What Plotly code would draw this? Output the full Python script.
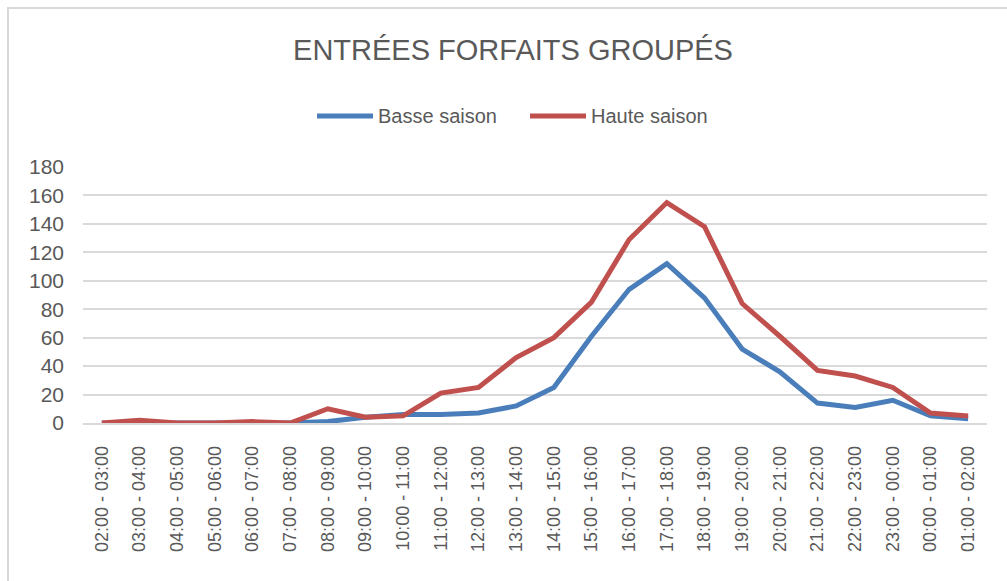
import plotly.graph_objects as go

categories = ["02:00 - 03:00", "03:00 - 04:00", "04:00 - 05:00", "05:00 - 06:00",
              "06:00 - 07:00", "07:00 - 08:00", "08:00 - 09:00", "09:00 - 10:00",
              "10:00 - 11:00", "11:00 - 12:00", "12:00 - 13:00", "13:00 - 14:00",
              "14:00 - 15:00", "15:00 - 16:00", "16:00 - 17:00", "17:00 - 18:00",
              "18:00 - 19:00", "19:00 - 20:00", "20:00 - 21:00", "21:00 - 22:00",
              "22:00 - 23:00", "23:00 - 00:00", "00:00 - 01:00", "01:00 - 02:00"]
basse_saison = [0, 0, 0, 0, 0, 0, 1, 4, 6, 6, 7, 12, 25, 61, 94, 112, 88, 52, 36, 14, 11, 16, 5, 3]
haute_saison = [0, 2, 0, 0, 1, 0, 10, 4, 5, 21, 25, 46, 60, 85, 129, 155, 138, 84, 61, 37, 33, 25, 7, 5]
y_ticks = [0, 20, 40, 60, 80, 100, 120, 140, 160, 180]
series_names = ["Basse saison", "Haute saison"]
series_colors = ["#4a7ebb", "#c0504d"]

FONT = "Liberation Sans"
GREY = "#595959"

fig = go.Figure()
for name, vals, col in zip(series_names, [basse_saison, haute_saison], series_colors):
    fig.add_trace(go.Scatter(x=categories, y=vals, mode="lines", name=name,
                             line=dict(color=col, width=5), showlegend=False))

L, R, T, B = 83, 20, 167, 158
W, H = 1007, 581
pw, ph = W - L - R, H - T - B

def px(x):
    return (x - L) / pw

def py(y):
    return (H - B - y) / ph

# custom legend (swatch + label) placed like the reference
legend_x = [317, 530]
legend_y = 116
shapes = [dict(type="rect", xref="paper", yref="paper",
               x0=px(8), x1=px(1012), y0=py(588), y1=py(8),
               line=dict(color="#d9d9d9", width=2), fillcolor="rgba(0,0,0,0)", layer="below")]
annotations = []
for lx, name, col in zip(legend_x, series_names, series_colors):
    shapes.append(dict(type="line", xref="paper", yref="paper",
                       x0=px(lx), x1=px(lx + 56), y0=py(legend_y), y1=py(legend_y),
                       line=dict(color=col, width=5)))
    annotations.append(dict(text=name, xref="paper", yref="paper", x=px(lx + 59),
                            y=py(legend_y), xanchor="left", yanchor="middle", showarrow=False,
                            font=dict(size=20, family=FONT, color=GREY)))

fig.update_layout(
    width=W, height=H,
    margin=dict(l=L, r=R, t=T, b=B),
    paper_bgcolor="white", plot_bgcolor="white",
    font=dict(family=FONT, color=GREY),
    title=dict(text="ENTRÉES FORFAITS GROUPÉS", x=513 / W, xanchor="center",
               y=1 - 50 / H, yanchor="middle",
               font=dict(size=29, family=FONT, color=GREY)),
    showlegend=False,
    xaxis=dict(type="category", tickangle=-90, tickfont=dict(size=18, color=GREY, family=FONT),
               showgrid=False, showline=True, linecolor="#d9d9d9", linewidth=1.5,
               ticks="", ticklen=0, ticklabelstandoff=14,
               range=[-0.5, len(categories) - 0.5]),
    yaxis=dict(range=[0, 180], tickvals=y_ticks, showgrid=True, gridcolor="#d9d9d9",
               gridwidth=1.5, zeroline=False, showline=False,
               tickfont=dict(size=21, color=GREY, family=FONT), ticks="", ticklen=0,
               ticklabelstandoff=18),
    shapes=shapes,
    annotations=annotations,
)

fig.write_html("out.html", config={"displayModeBar": False})

with open("out.html", "r", encoding="utf-8") as f:
    html = f.read()
html = html.replace("<head>", "<head><style>html,body{margin:0;padding:0;overflow:hidden;}</style>", 1)
with open("out.html", "w", encoding="utf-8") as f:
    f.write(html)
